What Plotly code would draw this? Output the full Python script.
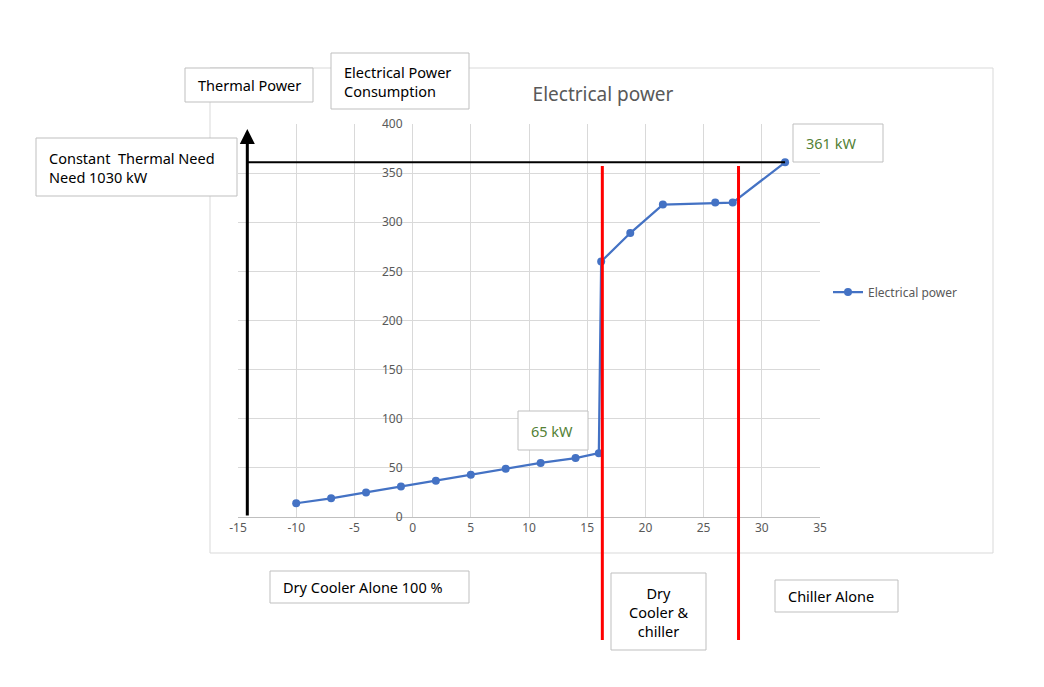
import plotly.graph_objects as go

# ---- data ----
temperature = [-10, -7, -4, -1, 2, 5, 8, 11, 14, 16, 16.2, 18.7, 21.5, 26, 27.5, 32]
power = [14, 19, 25, 31, 37, 43, 49, 55, 60, 65, 260, 289, 318, 320, 320, 361]
series_name = "Electrical power"
chart_title = "Electrical power"
x_ticks = [-15, -10, -5, 0, 5, 10, 15, 20, 25, 30, 35]
y_ticks = [0, 50, 100, 150, 200, 250, 300, 350, 400]
zone_limits = [16.3, 28]  # x positions of the red separators
thermal_axis_x = -14.2

OFF = 8  # page body margin
W, H = 1044 - OFF, 687 - OFF
L, R, T, B = 238, 820, 124, 517  # plot area pixels in the screenshot


def px(xp):
    return (xp - L) / (R - L)


def py(yp):
    return (B - yp) / (B - T)


FONT = "Noto Sans"
fig = go.Figure()

fig.add_trace(go.Scatter(
    x=temperature, y=power, mode="lines+markers", name=series_name,
    line=dict(color="#4472C4", width=2.25),
    marker=dict(color="#4472C4", size=8),
))

shapes = []
# outer chart area border
shapes.append(dict(type="rect", xref="paper", yref="paper",
                   x0=px(210), x1=px(993), y0=py(553), y1=py(68),
                   line=dict(color="#d9d9d9", width=1), layer="below"))
# horizontal black line at the max consumption
shapes.append(dict(type="line", xref="x", yref="y",
                   x0=thermal_axis_x, x1=temperature[-1], y0=max(power), y1=max(power),
                   line=dict(color="black", width=2)))
# red zone separators
for zx in zone_limits:
    shapes.append(dict(type="line", xref="x", yref="paper",
                       x0=zx, x1=zx, y0=py(640), y1=py(166),
                       line=dict(color="#ff0000", width=3)))

annotations = []
# black vertical arrow
annotations.append(dict(x=thermal_axis_x, y=395, xref="x", yref="y",
                        ax=thermal_axis_x, ay=0, axref="x", ayref="y",
                        text="", showarrow=True, arrowhead=2, arrowsize=1,
                        arrowwidth=3, arrowcolor="black"))


def box(text, x0, y0, x1, y1, color="#000000", align="left", size=14.5):
    shapes.append(dict(type="rect", xref="paper", yref="paper",
                       x0=px(x0), x1=px(x1), y0=py(y1), y1=py(y0),
                       line=dict(color="#bfbfbf", width=1), fillcolor="white"))
    if align == "left":
        ax, anchor = px(x0 + 11), "left"
    else:
        ax, anchor = px((x0 + x1) / 2), "center"
    annotations.append(dict(
        text=text, xref="paper", yref="paper",
        x=ax, y=py((y0 + y1) / 2), xanchor=anchor, yanchor="middle",
        align=align, showarrow=False,
        font=dict(family=FONT, size=size, color=color)))


box("Thermal Power", 185, 68, 313, 102)
box("Electrical Power<br>Consumption", 331, 53, 469, 109)
box("Constant  Thermal Need<br>Need 1030 kW", 36, 138, 237, 196)
box(f"{max(power)} kW", 793, 124, 883, 162, color="#538135")
box(f"{power[9]} kW", 518, 411, 588, 450, color="#538135")
box("Dry Cooler Alone 100 %", 270, 571, 469, 603)
box("Dry<br>Cooler &<br>chiller", 611, 573, 706, 650, align="center")
box("Chiller Alone", 775, 580, 898, 612)

fig.update_layout(
    width=W, height=H,
    margin=dict(l=L - OFF, r=1044 - R, t=T - OFF, b=687 - B),
    paper_bgcolor="white", plot_bgcolor="white",
    title=dict(text=chart_title, xref="paper", x=px(603), xanchor="center",
               yref="container", y=1 - (94 - OFF) / H, yanchor="middle",
               font=dict(family=FONT, size=19, color="#595959")),
    showlegend=True,
    legend=dict(x=px(828), y=py(292), xanchor="left", yanchor="middle",
                font=dict(family=FONT, size=12, color="#595959"),
                bgcolor="rgba(0,0,0,0)"),
    xaxis=dict(range=[x_ticks[0], x_ticks[-1]], tickvals=x_ticks,
               ticktext=[str(v) for v in x_ticks], showgrid=True,
               gridcolor="#d9d9d9", zeroline=False, showline=True, linecolor="#bfbfbf",
               tickfont=dict(family=FONT, size=12, color="#595959"), ticks=""),
    yaxis=dict(range=[y_ticks[0], y_ticks[-1]], tickvals=y_ticks,
               ticktext=[str(v) for v in y_ticks], showgrid=True,
               gridcolor="#d9d9d9", zeroline=False, showline=False,
               anchor="free", position=(0 - x_ticks[0]) / (x_ticks[-1] - x_ticks[0]),
               ticklabelstandoff=10,
               tickfont=dict(family=FONT, size=12, color="#595959"), ticks=""),
    shapes=shapes, annotations=annotations,
)

fig.write_html("out.html")
